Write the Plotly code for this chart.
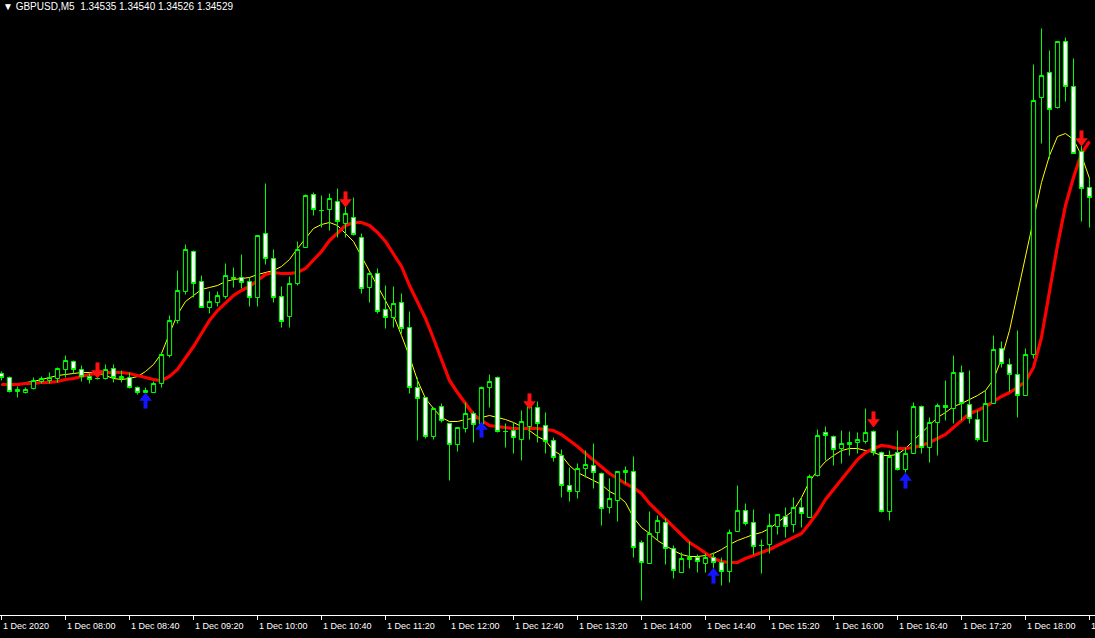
import plotly.graph_objects as go

# ---------------- data (GBPUSD M5, 1 Dec 2020, bar index 0 = 07:20) ----------------
open_ = [1.34353, 1.34349, 1.34335, 1.34334, 1.34338, 1.34345, 1.34346, 1.34348, 1.34357, 1.34365,
         1.34357, 1.34350, 1.34348, 1.34348, 1.34358, 1.34348, 1.34349, 1.34339, 1.34334, 1.34334,
         1.34343, 1.34371, 1.34406, 1.34435, 1.34475, 1.34445, 1.34419, 1.34424, 1.34430, 1.34448,
         1.34449, 1.34445, 1.34429, 1.34493, 1.34468, 1.34430, 1.34410, 1.34443, 1.34479, 1.34532,
         1.34516, 1.34517, 1.34525, 1.34503, 1.34509, 1.34489, 1.34439, 1.34453, 1.34417, 1.34409,
         1.34424, 1.34399, 1.34339, 1.34329, 1.34290, 1.34320, 1.34303, 1.34282, 1.34298, 1.34313,
         1.34302, 1.34339, 1.34349, 1.34295, 1.34296, 1.34287, 1.34300, 1.34319, 1.34301, 1.34286,
         1.34271, 1.34241, 1.34235, 1.34258, 1.34261, 1.34253, 1.34219, 1.34226, 1.34254, 1.34255,
         1.34184, 1.34163, 1.34194, 1.34204, 1.34178, 1.34154, 1.34167, 1.34169, 1.34163, 1.34169,
         1.34164, 1.34155, 1.34195, 1.34216, 1.34204, 1.34181, 1.34182, 1.34200, 1.34210, 1.34202,
         1.34219, 1.34209, 1.34251, 1.34294, 1.34290, 1.34278, 1.34282, 1.34284, 1.34285, 1.34295,
         1.34274, 1.34215, 1.34274, 1.34257, 1.34273, 1.34320, 1.34279, 1.34304, 1.34321, 1.34318,
         1.34354, 1.34322, 1.34307, 1.34285, 1.34323, 1.34378, 1.34362, 1.34352, 1.34331, 1.34372,
         1.34629, 1.34654, 1.34619, 1.34685, 1.34640, 1.34575, 1.34539]

high_ = [1.34355, 1.34350, 1.34340, 1.34339, 1.34349, 1.34350, 1.34354, 1.34359, 1.34371, 1.34366,
         1.34361, 1.34353, 1.34354, 1.34362, 1.34362, 1.34356, 1.34354, 1.34340, 1.34339, 1.34345,
         1.34374, 1.34411, 1.34456, 1.34482, 1.34476, 1.34451, 1.34435, 1.34435, 1.34463, 1.34459,
         1.34472, 1.34449, 1.34491, 1.34543, 1.34477, 1.34440, 1.34450, 1.34485, 1.34532, 1.34534,
         1.34531, 1.34533, 1.34538, 1.34523, 1.34529, 1.34493, 1.34454, 1.34458, 1.34441, 1.34440,
         1.34433, 1.34415, 1.34349, 1.34329, 1.34319, 1.34323, 1.34303, 1.34299, 1.34324, 1.34315,
         1.34340, 1.34352, 1.34350, 1.34303, 1.34304, 1.34316, 1.34331, 1.34325, 1.34314, 1.34289,
         1.34277, 1.34259, 1.34263, 1.34276, 1.34283, 1.34254, 1.34248, 1.34255, 1.34260, 1.34270,
         1.34186, 1.34215, 1.34211, 1.34208, 1.34181, 1.34174, 1.34185, 1.34172, 1.34173, 1.34174,
         1.34169, 1.34197, 1.34241, 1.34223, 1.34217, 1.34187, 1.34213, 1.34212, 1.34219, 1.34229,
         1.34229, 1.34252, 1.34297, 1.34300, 1.34291, 1.34296, 1.34295, 1.34294, 1.34318, 1.34296,
         1.34275, 1.34276, 1.34296, 1.34279, 1.34324, 1.34321, 1.34309, 1.34323, 1.34346, 1.34371,
         1.34361, 1.34356, 1.34316, 1.34336, 1.34391, 1.34385, 1.34368, 1.34396, 1.34378, 1.34662,
         1.34698, 1.34676, 1.34685, 1.34689, 1.34668, 1.34583, 1.34549]

low_ = [1.34346, 1.34334, 1.34329, 1.34333, 1.34337, 1.34343, 1.34343, 1.34344, 1.34349, 1.34353,
        1.34345, 1.34343, 1.34347, 1.34347, 1.34344, 1.34344, 1.34338, 1.34332, 1.34329, 1.34334,
        1.34339, 1.34369, 1.34403, 1.34432, 1.34429, 1.34419, 1.34413, 1.34420, 1.34428, 1.34439,
        1.34438, 1.34420, 1.34420, 1.34462, 1.34424, 1.34399, 1.34399, 1.34441, 1.34479, 1.34511,
        1.34499, 1.34496, 1.34489, 1.34489, 1.34491, 1.34433, 1.34424, 1.34413, 1.34398, 1.34399,
        1.34393, 1.34333, 1.34286, 1.34288, 1.34287, 1.34304, 1.34246, 1.34275, 1.34294, 1.34284,
        1.34301, 1.34319, 1.34294, 1.34279, 1.34273, 1.34266, 1.34287, 1.34284, 1.34273, 1.34265,
        1.34229, 1.34225, 1.34228, 1.34249, 1.34238, 1.34201, 1.34213, 1.34205, 1.34243, 1.34169,
        1.34126, 1.34163, 1.34186, 1.34162, 1.34148, 1.34154, 1.34158, 1.34154, 1.34154, 1.34153,
        1.34141, 1.34144, 1.34195, 1.34201, 1.34172, 1.34153, 1.34173, 1.34192, 1.34189, 1.34194,
        1.34199, 1.34209, 1.34250, 1.34266, 1.34261, 1.34263, 1.34271, 1.34273, 1.34283, 1.34271,
        1.34214, 1.34206, 1.34256, 1.34254, 1.34273, 1.34273, 1.34264, 1.34271, 1.34306, 1.34303,
        1.34306, 1.34303, 1.34285, 1.34285, 1.34323, 1.34359, 1.34335, 1.34309, 1.34331, 1.34368,
        1.34583, 1.34568, 1.34618, 1.34625, 1.34573, 1.34505, 1.34499]

close_ = [1.34349, 1.34335, 1.34337, 1.34337, 1.34346, 1.34348, 1.34349, 1.34358, 1.34366, 1.34357,
          1.34350, 1.34347, 1.34348, 1.34357, 1.34349, 1.34350, 1.34339, 1.34334, 1.34336, 1.34343,
          1.34372, 1.34406, 1.34436, 1.34477, 1.34443, 1.34419, 1.34425, 1.34431, 1.34451, 1.34449,
          1.34444, 1.34429, 1.34491, 1.34468, 1.34429, 1.34405, 1.34443, 1.34477, 1.34531, 1.34517,
          1.34516, 1.34528, 1.34505, 1.34513, 1.34492, 1.34438, 1.34453, 1.34415, 1.34409, 1.34423,
          1.34398, 1.34339, 1.34328, 1.34290, 1.34318, 1.34306, 1.34282, 1.34299, 1.34313, 1.34302,
          1.34339, 1.34345, 1.34295, 1.34295, 1.34289, 1.34305, 1.34320, 1.34303, 1.34285, 1.34269,
          1.34241, 1.34235, 1.34258, 1.34262, 1.34254, 1.34218, 1.34228, 1.34255, 1.34256, 1.34179,
          1.34164, 1.34193, 1.34206, 1.34178, 1.34156, 1.34168, 1.34169, 1.34165, 1.34169, 1.34164,
          1.34155, 1.34194, 1.34216, 1.34203, 1.34180, 1.34181, 1.34201, 1.34212, 1.34200, 1.34219,
          1.34213, 1.34250, 1.34291, 1.34291, 1.34277, 1.34283, 1.34284, 1.34287, 1.34294, 1.34274,
          1.34215, 1.34270, 1.34257, 1.34273, 1.34320, 1.34279, 1.34304, 1.34321, 1.34319, 1.34354,
          1.34323, 1.34308, 1.34287, 1.34323, 1.34377, 1.34363, 1.34352, 1.34331, 1.34372, 1.34626,
          1.34651, 1.34617, 1.34685, 1.34640, 1.34573, 1.34538, 1.34529]

# fast moving average (thin yellow line)
ma_fast = [1.34342, 1.34341, 1.34341, 1.34344, 1.34345, 1.34347, 1.34349, 1.34351, 1.34352, 1.34353,
           1.34354, 1.34354, 1.34353, 1.34351, 1.34348, 1.34347, 1.34348, 1.34350, 1.34355, 1.34362,
           1.34373, 1.34393, 1.34412, 1.34425, 1.34431, 1.34437, 1.34439, 1.34441, 1.34445, 1.34447,
           1.34448, 1.34449, 1.34452, 1.34454, 1.34456, 1.34460, 1.34467, 1.34478, 1.34488, 1.34498,
           1.34502, 1.34504, 1.34501, 1.34493, 1.34485, 1.34470, 1.34455, 1.34441, 1.34426, 1.34411,
           1.34391, 1.34370, 1.34346, 1.34328, 1.34318, 1.34309, 1.34305, 1.34305, 1.34307, 1.34308,
           1.34309, 1.34311, 1.34309, 1.34307, 1.34304, 1.34300, 1.34296, 1.34290, 1.34286, 1.34276,
           1.34271, 1.34261, 1.34254, 1.34250, 1.34246, 1.34242, 1.34235, 1.34231, 1.34224, 1.34209,
           1.34199, 1.34193, 1.34186, 1.34181, 1.34176, 1.34172, 1.34170, 1.34170, 1.34171, 1.34173,
           1.34177, 1.34182, 1.34186, 1.34189, 1.34192, 1.34194, 1.34198, 1.34204, 1.34210, 1.34216,
           1.34229, 1.34245, 1.34256, 1.34265, 1.34271, 1.34276, 1.34278, 1.34278, 1.34276, 1.34274,
           1.34271, 1.34271, 1.34272, 1.34278, 1.34286, 1.34294, 1.34301, 1.34309, 1.34314, 1.34320,
           1.34323, 1.34327, 1.34331, 1.34336, 1.34347, 1.34368, 1.34396, 1.34433, 1.34469, 1.34507,
           1.34544, 1.34571, 1.34590, 1.34593, 1.34587, 1.34571, 1.34548]

# slow moving average (thick red line)
ma_slow = [1.34342, 1.34342, 1.34342, 1.34343, 1.34343, 1.34344, 1.34344, 1.34345, 1.34347, 1.34348,
           1.34350, 1.34352, 1.34353, 1.34354, 1.34354, 1.34354, 1.34353, 1.34351, 1.34349, 1.34347,
           1.34346, 1.34350, 1.34357, 1.34368, 1.34380, 1.34393, 1.34406, 1.34416, 1.34424, 1.34431,
           1.34436, 1.34440, 1.34446, 1.34452, 1.34454, 1.34453, 1.34453, 1.34454, 1.34458, 1.34467,
           1.34475, 1.34486, 1.34494, 1.34501, 1.34504, 1.34504, 1.34501, 1.34494, 1.34485, 1.34473,
           1.34460, 1.34441, 1.34424, 1.34408, 1.34388, 1.34368, 1.34346, 1.34334, 1.34323, 1.34312,
           1.34306, 1.34301, 1.34300, 1.34299, 1.34298, 1.34298, 1.34298, 1.34298, 1.34297, 1.34296,
           1.34292, 1.34286, 1.34280, 1.34273, 1.34266, 1.34259, 1.34253, 1.34248, 1.34243, 1.34239,
           1.34233, 1.34223, 1.34215, 1.34208, 1.34200, 1.34192, 1.34184, 1.34179, 1.34173, 1.34168,
           1.34165, 1.34164, 1.34164, 1.34168, 1.34171, 1.34174, 1.34177, 1.34181, 1.34185, 1.34189,
           1.34193, 1.34203, 1.34214, 1.34227, 1.34237, 1.34248, 1.34258, 1.34267, 1.34274, 1.34278,
           1.34281, 1.34280, 1.34278, 1.34278, 1.34279, 1.34281, 1.34284, 1.34288, 1.34292, 1.34299,
           1.34306, 1.34313, 1.34316, 1.34320, 1.34325, 1.34330, 1.34334, 1.34339, 1.34345, 1.34359,
           1.34389, 1.34436, 1.34481, 1.34521, 1.34549, 1.34573, 1.34585]

# signal arrows: bar index and tip price
sell_bars = [12, 43, 66, 109, 135]
sell_tips = [1.34348, 1.34519, 1.34317, 1.34299, 1.34580]
buy_bars = [18, 60, 89, 113]
buy_tips = [1.34334, 1.34305, 1.34159, 1.34254]

tick_bars = list(range(0, 137, 8))
tick_labels = ["1 Dec 2020", "1 Dec 08:00", "1 Dec 08:40", "1 Dec 09:20", "1 Dec 10:00",
               "1 Dec 10:40", "1 Dec 11:20", "1 Dec 12:00", "1 Dec 12:40", "1 Dec 13:20",
               "1 Dec 14:00", "1 Dec 14:40", "1 Dec 15:20", "1 Dec 16:00", "1 Dec 16:40",
               "1 Dec 17:20", "1 Dec 18:00", "1 Dec 18:40"]

header = "\u25bc GBPUSD,M5\u00a0\u00a01.34535 1.34540 1.34526 1.34529"

for arr in (open_, high_, low_, close_, ma_fast, ma_slow):
    assert len(arr) == 137, len(arr)

# ---------------- figure ----------------
W, H = 1095, 638
MB = 23
PLOT_H = H - MB
PX = 1e-5                      # price per screen pixel
Y_TOP = 1.34726 + 0.5 * PX     # half-pixel offset keeps 1px outlines crisp
Y_BOT = Y_TOP - PLOT_H * PX
BAR_PX = 8                     # pixels per bar
X0_PX = 1.5                    # pixel centre of the first bar
X_RANGE = [-X0_PX / BAR_PX, (W - X0_PX) / BAR_PX]

bars = list(range(len(close_)))
GREEN = "#00FF00"
FONT = "Liberation Sans, Arial, sans-serif"

fig = go.Figure()

fig.add_trace(go.Scatter(x=bars, y=ma_fast, mode="lines",
                         line=dict(color="#FFFF00", width=1), hoverinfo="skip"))
fig.add_trace(go.Scatter(x=bars, y=ma_slow, mode="lines",
                         line=dict(color="#FF0000", width=3.2), hoverinfo="skip"))

fig.add_trace(go.Candlestick(
    x=bars, open=open_, high=high_, low=low_, close=close_,
    increasing=dict(line=dict(color=GREEN, width=1), fillcolor="#000000"),
    decreasing=dict(line=dict(color=GREEN, width=1), fillcolor="#FFFFFF"),
    whiskerwidth=0, xaxis="x2", yaxis="y2", hoverinfo="skip"))

HEAD = 11
r = HEAD / 2
# sell arrows (red, pointing down)
fig.add_trace(go.Scatter(x=sell_bars, y=[p + r * PX for p in sell_tips], mode="markers",
                         marker=dict(symbol="triangle-down", size=HEAD, color="#FF1010",
                                     line=dict(width=0)),
                         xaxis="x2", yaxis="y2", hoverinfo="skip"))
fig.add_trace(go.Scatter(x=sell_bars, y=[p + 10.5 * PX for p in sell_tips], mode="markers",
                         marker=dict(symbol="line-ns", size=8,
                                     line=dict(width=4, color="#FF1010")),
                         xaxis="x2", yaxis="y2", hoverinfo="skip"))
# buy arrows (blue, pointing up)
fig.add_trace(go.Scatter(x=buy_bars, y=[p - r * PX for p in buy_tips], mode="markers",
                         marker=dict(symbol="triangle-up", size=HEAD, color="#1414FF",
                                     line=dict(width=0)),
                         xaxis="x2", yaxis="y2", hoverinfo="skip"))
fig.add_trace(go.Scatter(x=buy_bars, y=[p - 10.5 * PX for p in buy_tips], mode="markers",
                         marker=dict(symbol="line-ns", size=8,
                                     line=dict(width=4, color="#1414FF")),
                         xaxis="x2", yaxis="y2", hoverinfo="skip"))

annotations = [dict(text=header, x=0, y=1, xref="paper", yref="paper",
                    xanchor="left", yanchor="top", xshift=1, yshift=1, showarrow=False,
                    font=dict(family=FONT, size=10, color="#FFFFFF"))]
for b, t in zip(tick_bars, tick_labels):
    annotations.append(dict(text=t, x=b, y=0, xref="x", yref="paper",
                            xanchor="left", yanchor="top", yshift=-4, xshift=-1,
                            showarrow=False,
                            font=dict(family=FONT, size=9, color="#FFFFFF")))

fig.update_layout(
    width=W, height=H,
    margin=dict(l=0, r=0, t=0, b=MB, pad=0),
    paper_bgcolor="#000000", plot_bgcolor="#000000",
    showlegend=False, hovermode=False, boxgap=0.25,
    xaxis=dict(range=X_RANGE, showgrid=False, zeroline=False, showline=True,
               linecolor="#FFFFFF", linewidth=1, ticks="outside", ticklen=4,
               tickcolor="#FFFFFF", tickwidth=1, tickvals=tick_bars,
               showticklabels=False, rangeslider=dict(visible=False), fixedrange=True),
    yaxis=dict(range=[Y_BOT, Y_TOP], visible=False, fixedrange=True),
    xaxis2=dict(range=X_RANGE, overlaying="x", visible=False,
                rangeslider=dict(visible=False), fixedrange=True),
    yaxis2=dict(range=[Y_BOT, Y_TOP], overlaying="y", visible=False, fixedrange=True),
    annotations=annotations,
)

fig.write_html("out.html", config={"displayModeBar": False},
               post_script="document.body.style.margin='0';document.body.style.padding='0';"
                           "document.body.style.background='#000';")
